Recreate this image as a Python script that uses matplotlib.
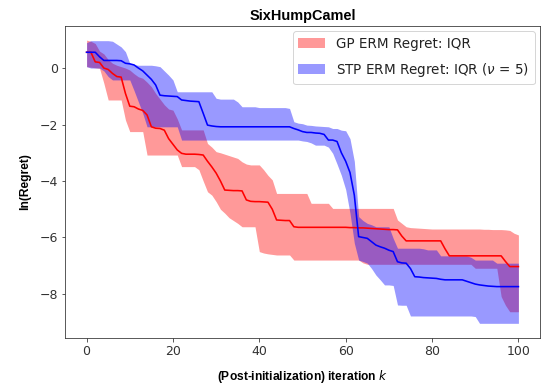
import numpy as np
import matplotlib
matplotlib.use("Agg")
import matplotlib.pyplot as plt

iterations = list(range(0, 101))

gp_median = [
    0.56, 0.56, 0.22, 0.20, 0.00, -0.05, -0.19, -0.30, -0.32, -0.90,
    -1.35, -1.37, -1.45, -1.50, -1.66, -2.08, -2.13, -2.14, -2.20, -2.50,
    -2.70, -2.90, -3.02, -3.05, -3.05, -3.05, -3.06, -3.08, -3.30, -3.50,
    -3.72, -4.00, -4.32, -4.33, -4.34, -4.34, -4.35, -4.67, -4.72, -4.73,
    -4.73, -4.74, -4.75, -5.00, -5.38, -5.39, -5.40, -5.40, -5.62, -5.64,
    -5.64, -5.64, -5.64, -5.64, -5.64, -5.64, -5.64, -5.64, -5.64, -5.64,
    -5.64, -5.65, -5.65, -5.66, -5.66, -5.67, -5.68, -5.69, -5.70, -5.71,
    -5.72, -5.72, -5.73, -5.95, -6.12, -6.12, -6.12, -6.12, -6.12, -6.12,
    -6.12, -6.12, -6.12, -6.40, -6.65, -6.65, -6.65, -6.65, -6.65, -6.65,
    -6.65, -6.65, -6.65, -6.65, -6.65, -6.65, -6.65, -6.85, -7.03, -7.03,
    -7.03]
gp_q75 = [
    0.99, 0.95, 0.87, 0.60, 0.50, 0.30, 0.17, 0.10, 0.05, 0.00,
    -0.07, -0.20, -0.31, -0.36, -0.50, -0.66, -0.90, -1.10, -1.30, -1.45,
    -1.49, -1.80, -2.19, -2.19, -2.19, -2.19, -2.19, -2.19, -2.67, -2.80,
    -2.96, -3.00, -3.05, -3.10, -3.15, -3.20, -3.32, -3.40, -3.43, -3.43,
    -3.43, -3.60, -3.80, -3.96, -4.44, -4.44, -4.44, -4.44, -4.44, -4.44,
    -4.44, -4.44, -4.79, -4.79, -4.79, -4.79, -4.79, -4.97, -4.97, -4.97,
    -4.97, -4.97, -4.97, -4.97, -4.97, -4.97, -4.97, -4.97, -4.97, -4.97,
    -4.97, -4.97, -5.38, -5.50, -5.62, -5.65, -5.66, -5.67, -5.68, -5.69,
    -5.70, -5.70, -5.70, -5.70, -5.70, -5.70, -5.70, -5.70, -5.70, -5.70,
    -5.70, -5.70, -5.71, -5.71, -5.72, -5.72, -5.72, -5.73, -5.75, -5.85,
    -5.91]
gp_q25 = [
    0.05, 0.03, 0.01, -0.01, -0.54, -1.13, -1.13, -1.13, -1.13, -1.84,
    -2.25, -2.25, -2.25, -2.25, -3.08, -3.08, -3.08, -3.08, -3.08, -3.08,
    -3.08, -3.08, -3.49, -3.49, -3.49, -3.49, -3.60, -4.00, -4.38, -4.50,
    -4.73, -5.00, -5.14, -5.30, -5.40, -5.50, -5.62, -5.62, -5.62, -5.62,
    -6.50, -6.55, -6.58, -6.60, -6.62, -6.62, -6.62, -6.62, -6.80, -6.80,
    -6.80, -6.80, -6.80, -6.80, -6.80, -6.80, -6.80, -6.80, -6.80, -6.80,
    -6.80, -6.80, -6.80, -6.80, -6.90, -6.95, -6.95, -6.95, -6.95, -6.95,
    -6.95, -6.95, -6.95, -6.95, -6.95, -6.95, -6.95, -6.95, -6.95, -6.95,
    -6.95, -6.95, -6.95, -6.95, -6.95, -6.95, -6.95, -6.95, -6.95, -6.95,
    -7.09, -7.09, -7.09, -7.09, -7.09, -7.09, -8.09, -8.40, -8.63, -8.63,
    -8.63]

stp_median = [
    0.56, 0.56, 0.56, 0.40, 0.27, 0.27, 0.27, 0.27, 0.26, 0.17,
    0.15, 0.11, 0.00, -0.10, -0.25, -0.40, -0.60, -0.96, -0.98, -0.99,
    -1.00, -1.01, -1.13, -1.15, -1.17, -1.18, -1.19, -1.60, -2.02, -2.05,
    -2.07, -2.08, -2.08, -2.08, -2.08, -2.08, -2.08, -2.08, -2.08, -2.08,
    -2.08, -2.08, -2.08, -2.08, -2.08, -2.08, -2.08, -2.08, -2.14, -2.19,
    -2.25, -2.28, -2.28, -2.30, -2.31, -2.35, -2.55, -2.55, -2.60, -3.00,
    -3.30, -3.70, -4.50, -5.97, -6.00, -6.03, -6.15, -6.27, -6.33, -6.38,
    -6.45, -6.50, -6.86, -6.90, -6.91, -7.10, -7.39, -7.40, -7.42, -7.43,
    -7.44, -7.45, -7.48, -7.50, -7.50, -7.50, -7.50, -7.50, -7.55, -7.60,
    -7.65, -7.68, -7.70, -7.72, -7.73, -7.74, -7.74, -7.74, -7.74, -7.74,
    -7.74]
stp_q75 = [
    0.90, 0.97, 0.97, 0.97, 0.97, 0.97, 0.95, 0.85, 0.75, 0.58,
    0.17, 0.12, 0.10, 0.10, 0.10, 0.10, 0.08, 0.05, -0.10, -0.25,
    -0.42, -0.84, -0.84, -0.84, -0.84, -0.84, -0.84, -0.84, -0.84, -0.84,
    -1.07, -1.10, -1.10, -1.10, -1.10, -1.20, -1.37, -1.37, -1.37, -1.37,
    -1.40, -1.40, -1.40, -1.40, -1.40, -1.40, -1.40, -1.43, -1.90, -1.95,
    -1.97, -2.02, -2.03, -2.05, -2.06, -2.07, -2.08, -2.14, -2.14, -2.20,
    -2.22, -2.50, -3.30, -5.26, -5.40, -5.50, -5.55, -5.62, -5.62, -5.62,
    -5.62, -6.03, -6.38, -6.38, -6.38, -6.38, -6.38, -6.38, -6.40, -6.44,
    -6.44, -6.44, -6.65, -6.65, -6.65, -6.65, -6.65, -6.65, -6.65, -6.70,
    -6.80, -6.80, -6.80, -6.80, -6.80, -6.91, -6.91, -6.91, -6.91, -6.91,
    -6.91]
stp_q25 = [
    0.05, 0.00, 0.00, 0.00, -0.10, -0.30, -0.42, -0.42, -0.42, -0.42,
    -0.42, -0.80, -1.20, -1.60, -2.08, -2.08, -2.08, -2.08, -2.08, -2.08,
    -2.08, -2.08, -2.55, -2.55, -2.55, -2.55, -2.55, -2.55, -2.55, -2.55,
    -2.55, -2.55, -2.55, -2.55, -2.55, -2.55, -2.55, -2.55, -2.55, -2.55,
    -2.55, -2.55, -2.55, -2.55, -2.55, -2.55, -2.55, -2.55, -2.55, -2.55,
    -2.58, -2.60, -2.65, -2.73, -2.73, -2.73, -2.80, -3.02, -3.40, -3.80,
    -4.30, -5.14, -6.20, -6.80, -6.85, -6.91, -7.10, -7.33, -7.50, -7.68,
    -7.68, -7.70, -8.39, -8.40, -8.40, -8.78, -8.78, -8.78, -8.78, -8.78,
    -8.78, -8.78, -8.78, -8.78, -8.78, -8.78, -8.78, -8.78, -8.78, -8.78,
    -8.80, -9.04, -9.04, -9.04, -9.04, -9.04, -9.04, -9.04, -9.04, -9.04,
    -9.04]

title = "SixHumpCamel"
xlabel = "(Post-initialization) iteration $k$"
ylabel = "ln(Regret)"
gp_label = "GP ERM Regret: IQR"
stp_label = r"STP ERM Regret: IQR ($\nu$ = 5)"

W, H = 549, 390
fig = plt.figure(figsize=(W / 72, H / 72), dpi=72)
ax = fig.add_axes([65 / W, 1 - 338 / H, (540 - 65) / W, (338 - 26) / H])

ax.fill_between(iterations, gp_q25, gp_q75, color="red", alpha=0.4, linewidth=0, label=gp_label)
ax.fill_between(iterations, stp_q25, stp_q75, color="blue", alpha=0.4, linewidth=0, label=stp_label)
ax.plot(iterations, gp_median, color="red", linewidth=1.6)
ax.plot(iterations, stp_median, color="blue", linewidth=1.6)

ax.set_xlim(-5, 105)
ax.set_ylim(-9.56, 1.49)
ax.set_xticks([0, 20, 40, 60, 80, 100])
ax.set_yticks([0, -2, -4, -6, -8])
ax.tick_params(labelsize=12.5, colors="#333333", labelcolor="#333333")
for s in ax.spines.values():
    s.set_color("#333333")

ax.set_title(title, fontdict=dict(family="Liberation Sans", weight="bold", size=14.5), pad=6)
ax.set_xlabel(xlabel, fontdict=dict(family="Liberation Sans", weight="bold", size=12), labelpad=10)
ax.set_ylabel(ylabel, fontdict=dict(family="Liberation Sans", weight="bold", size=12), labelpad=8)

leg = ax.legend(loc="upper right", fontsize=13.5, framealpha=0.8, handlelength=2.0,
                borderaxespad=0.4, labelspacing=0.75)
for t in leg.get_texts():
    t.set_color("#222222")

fig.savefig("out.png", dpi=72)
